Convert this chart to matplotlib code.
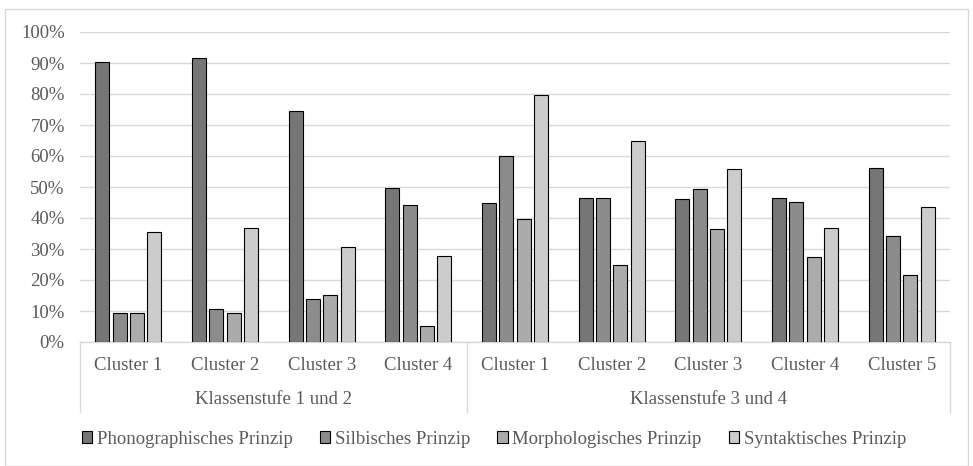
import matplotlib.pyplot as plt
import matplotlib.transforms as mtransforms
import numpy as np
from matplotlib.patches import Rectangle

plt.rcParams["font.family"] = ["Liberation Serif", "DejaVu Serif"]

clusters = ["Cluster 1", "Cluster 2", "Cluster 3", "Cluster 4",
            "Cluster 1", "Cluster 2", "Cluster 3", "Cluster 4", "Cluster 5"]
groups = ["Klassenstufe 1 und 2", "Klassenstufe 3 und 4"]
group_sizes = [4, 5]

series = ["Phonographisches Prinzip", "Silbisches Prinzip",
          "Morphologisches Prinzip", "Syntaktisches Prinzip"]
phono = [90.4, 91.6, 74.6, 49.8, 44.9, 46.6, 46.1, 46.4, 56.1]
silb = [9.3, 10.5, 13.8, 44.3, 59.9, 46.6, 49.4, 45.2, 34.3]
morph = [9.3, 9.3, 15.3, 5.3, 39.8, 24.9, 36.3, 27.3, 21.7]
synt = [35.6, 36.7, 30.8, 27.6, 79.8, 65.0, 55.8, 36.9, 43.5]
colors = ["#767676", "#8c8c8c", "#ababab", "#cccccc"]

TEXT = "#595959"
GRID = "#d9d9d9"
W, H = 973, 466

fig = plt.figure(figsize=(W / 100, H / 100), dpi=100)
fig.patches.append(Rectangle((5 / W, 0), 963 / W, 1 - 9 / H, transform=fig.transFigure,
                             fill=False, edgecolor=GRID, linewidth=1))
ax = fig.add_axes([80 / W, (H - 342) / H, 870 / W, 310 / H])

x = np.arange(len(clusters))
for i, (name, vals, c) in enumerate(zip(series, [phono, silb, morph, synt], colors)):
    ax.bar(x + (i - 1.5) * 0.18, np.array(vals) / 100, width=0.145, color=c,
           edgecolor="black", linewidth=0.8, label=name, zorder=3)

ax.set_xlim(-0.5, len(clusters) - 0.5)
ax.set_ylim(0, 1)
ax.set_yticks(np.arange(0, 1.01, 0.1))
ax.set_yticklabels([f"{int(round(v * 100))}%" for v in np.arange(0, 1.01, 0.1)])
ax.yaxis.grid(True, color=GRID, linewidth=1, zorder=0)
ax.tick_params(axis="y", length=0, pad=11, labelsize=13.5, labelcolor=TEXT)
ax.set_xticks([])
for s in ["top", "right", "left"]:
    ax.spines[s].set_visible(False)
ax.spines["bottom"].set_color(GRID)
ax.spines["bottom"].set_linewidth(1)

# two-level category axis
trans = mtransforms.blended_transform_factory(ax.transData, ax.transAxes)
depth = 70 / 310
for xi, lab in zip(x, clusters):
    ax.text(xi, -24 / 310, lab, transform=trans, ha="center", va="center",
            fontsize=13.5, color=TEXT)
start = -0.5
ax.plot([start, start], [0, -depth], transform=trans, color=GRID, lw=1, clip_on=False)
for g, n in zip(groups, group_sizes):
    end = start + n
    ax.plot([end, end], [0, -depth], transform=trans, color=GRID, lw=1, clip_on=False)
    ax.text((start + end) / 2, -58 / 310, g, transform=trans, ha="center", va="center",
            fontsize=13.5, color=TEXT)
    start = end

leg = fig.legend(loc="center", bbox_to_anchor=(494 / W, 1 - 439 / H), ncol=4,
                 frameon=False, fontsize=13.5, handlelength=0.55, handleheight=0.55,
                 handletextpad=0.25, columnspacing=1.45)
for t in leg.get_texts():
    t.set_color(TEXT)

fig.savefig("out.png", dpi=100)
